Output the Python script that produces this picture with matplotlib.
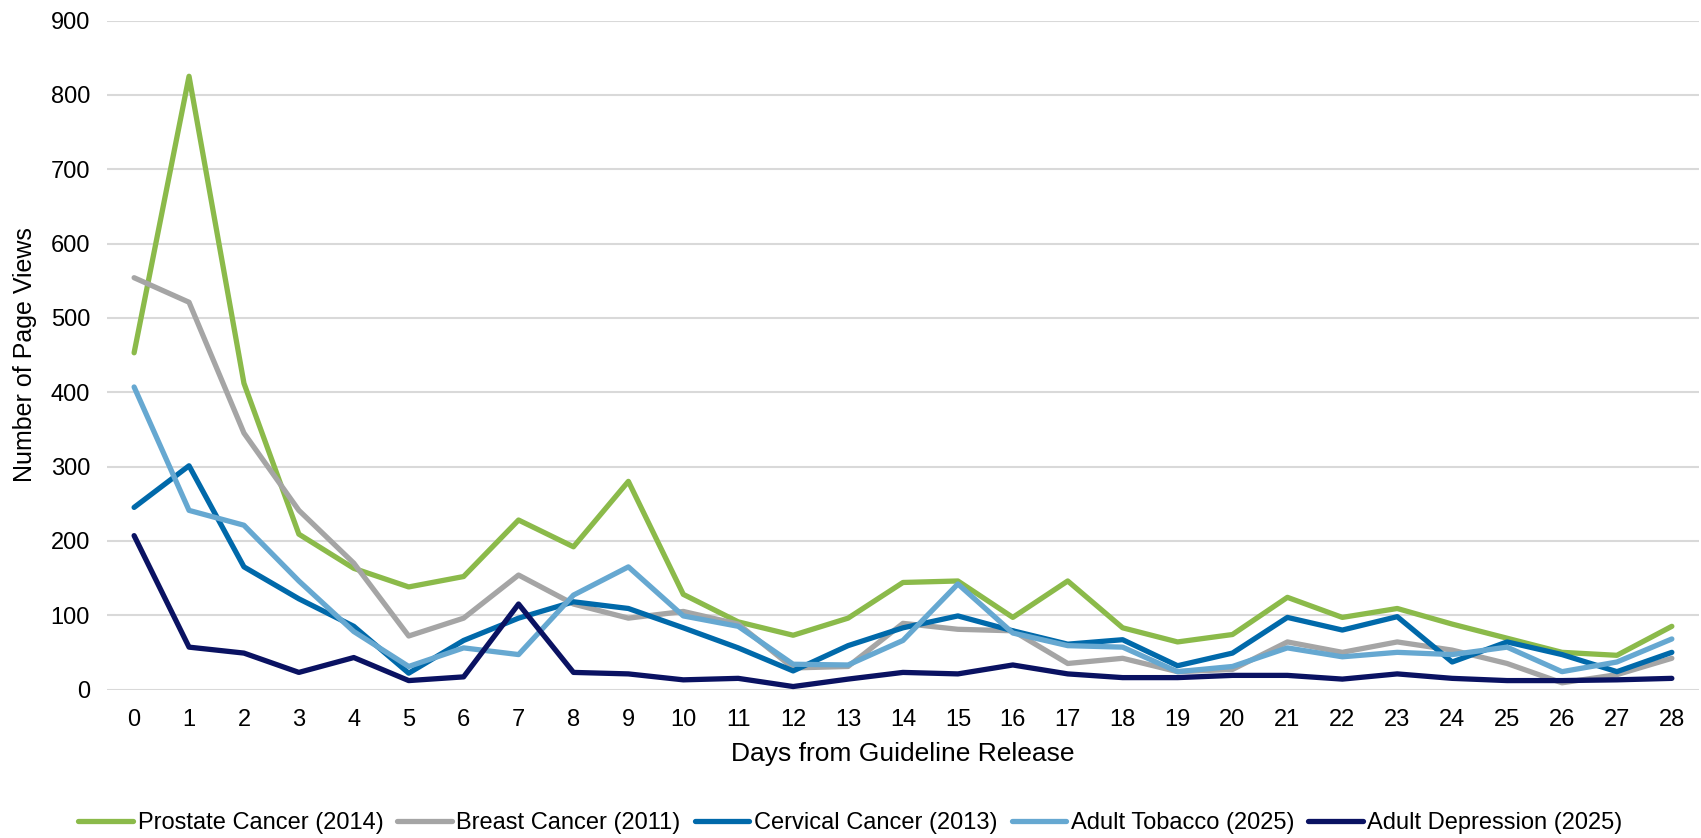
import matplotlib
matplotlib.use("Agg")
import matplotlib.pyplot as plt

plt.rcParams['font.family'] = ['Liberation Sans', 'DejaVu Sans']

days = list(range(29))

prostate = [453, 825, 412, 209, 163, 138, 152, 228, 192, 280, 128, 91, 73, 96, 144, 146,
            97, 146, 83, 64, 74, 124, 97, 109, 88, 69, 50, 46, 85]
breast = [554, 521, 345, 241, 170, 72, 96, 154, 115, 96, 105, 88, 29, 31, 89, 81,
          79, 35, 42, 24, 27, 64, 50, 64, 53, 35, 9, 20, 42]
cervical = [245, 301, 165, 122, 85, 22, 66, 96, 118, 109, 83, 56, 25, 59, 83, 99,
            79, 61, 67, 32, 49, 97, 80, 98, 37, 64, 47, 24, 50]
tobacco = [407, 241, 221, 146, 78, 31, 56, 47, 127, 165, 99, 85, 34, 33, 66, 142,
           76, 59, 57, 24, 31, 56, 44, 50, 47, 57, 24, 37, 68]
depression = [207, 57, 49, 23, 43, 12, 17, 115, 23, 21, 13, 15, 4, 14, 23, 21,
              33, 21, 16, 16, 19, 19, 14, 21, 15, 12, 12, 13, 15]

series = [
    ('Prostate Cancer (2014)', prostate, '#8BBA4A'),
    ('Breast Cancer (2011)', breast, '#A5A5A5'),
    ('Cervical Cancer (2013)', cervical, '#0069AA'),
    ('Adult Tobacco (2025)', tobacco, '#66A8D1'),
    ('Adult Depression (2025)', depression, '#0A1262'),
]

fig = plt.figure(figsize=(17.01, 8.38), dpi=100)
ax = fig.add_axes([0.0627, 0.1772, 0.9363, 0.7983])

for label, values, color in series:
    ax.plot(days, values, color=color, linewidth=3.8, label=label,
            solid_joinstyle='round', solid_capstyle='round')

ax.set_xlim(-0.5, 28.5)
ax.set_ylim(0, 900)
ax.set_xticks(days)
ax.set_yticks(range(0, 901, 100))
ax.yaxis.grid(True, color='#D9D9D9', linewidth=1.5)
ax.set_axisbelow(True)
for spine in ax.spines.values():
    spine.set_visible(False)
ax.tick_params(axis='both', length=0, labelsize=17, colors='black')
ax.tick_params(axis='x', pad=14)
ax.tick_params(axis='y', pad=12)

ax.set_xlabel('Days from Guideline Release', fontsize=19, labelpad=8)
ax.set_ylabel('Number of Page Views', fontsize=18, labelpad=10)

fig.legend(loc='center', bbox_to_anchor=(0.5, 0.018), ncol=5, frameon=False,
           fontsize=17, handlelength=2.3, handletextpad=0.2, columnspacing=0.6)

fig.savefig('out.png', dpi=100)
